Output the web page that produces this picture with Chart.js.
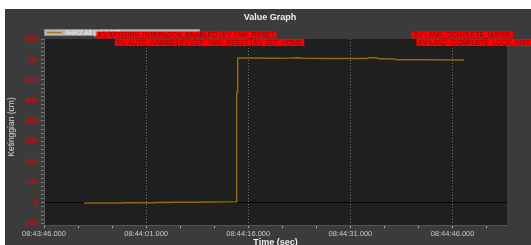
<!DOCTYPE html>
<html>
<head>
<meta charset="utf-8">
<script src="https://cdn.jsdelivr.net/npm/chart.js@4"></script>
<style>
  html, body { margin: 0; padding: 0; background: #fff; }
  #wrap { width: 531px; height: 245px; }
</style>
</head>
<body>
<div id="wrap"><canvas id="graph" width="531" height="245"></canvas></div>
<script>
// seconds after 08:43:46.000
const times  = [5.9, 11, 12.8, 13.3, 14, 16, 17.5, 18.2, 19, 22, 25, 28.2, 28.3, 28.4, 28.45, 30, 34, 36.5, 37.3, 38, 42, 47.4, 47.8, 48.9, 49.2, 51.4, 51.7, 52.2, 56, 61.7];
const height = [0, 0, 2, 1, 1, 1, 3, 2, 3, 3, 4, 5, 537, 540, 707, 707, 706, 707, 709, 706, 705, 705, 709, 709, 703, 702, 699, 699, 699, 698];

const xTickLabels = ['08:43:46.000', '08:44:01.000', '08:44:16.000', '08:44:31.000', '08:44:46.000'];
const yTickValues = [-100, 0, 100, 200, 300, 400, 500, 600, 700, 800];

const eventRow1 = ['EV MOTORS_INTERLOCK_ENABLED', 'EV YAW_RESET'];
const eventRow2 = ['EV AUTO_ARMED', 'EV EKF_YAW_RESET', 'EV SET_HOME'];
const eventRow3 = ['EV LAND_COMPLETE_MAYBE'];
const eventRow4 = ['EV LAND_COMPLETE_LOCK_DISABLE'];
const eventStart = [7.7, 10.4, 54.0, 54.7];

const seriesName = 'AHR2.Alt (m) * 100';

const decor = {
  id: 'decor',
  beforeDraw(chart) {
    const { ctx, chartArea: a } = chart;
    ctx.save();
    ctx.fillStyle = '#3b3b3b';
    ctx.fillRect(5, 9, chart.width - 5, chart.height - 9);
    ctx.fillStyle = '#1f1f1f';
    ctx.fillRect(a.left, a.top, a.right - a.left, a.bottom - a.top);
    ctx.restore();
  },
  afterDraw(chart) {
    const { ctx, chartArea: a } = chart;
    const xs = chart.scales.x;
    ctx.save();
    // title
    ctx.fillStyle = '#f0f0f0';
    ctx.font = 'bold 9px "Liberation Sans", Arial, sans-serif';
    ctx.textAlign = 'center';
    ctx.textBaseline = 'middle';
    ctx.fillText('Value Graph', 270, 18);
    ctx.fillText('Time (sec)', (a.left + a.right) / 2, 243);
    // y title
    ctx.save();
    ctx.translate(12, 127);
    ctx.rotate(-Math.PI / 2);
    ctx.font = '8.5px "Liberation Sans", Arial, sans-serif';
    ctx.fillStyle = '#d8d8d8';
    ctx.fillText('Ketinggian (cm)', 0, 0);
    ctx.restore();
    // legend box
    ctx.fillStyle = '#b8b8b8';
    ctx.fillRect(44, 29, 156, 7);
    ctx.strokeStyle = '#909090';
    ctx.lineWidth = 1;
    ctx.strokeRect(44.5, 29.5, 155, 6);
    ctx.strokeStyle = '#a8761a';
    ctx.lineWidth = 1.5;
    ctx.beginPath(); ctx.moveTo(47, 32.5); ctx.lineTo(62, 32.5); ctx.stroke();
    ctx.fillStyle = '#eeeeee';
    ctx.font = '6.5px "Liberation Sans", Arial, sans-serif';
    ctx.textAlign = 'left';
    ctx.fillText(seriesName, 65, 32.8);
    // event labels
    const rows = [eventRow1, eventRow2, eventRow3, eventRow4];
    const rowY = [31.5, 39, 31.5, 39];
    ctx.font = '6.8px "Liberation Sans", Arial, sans-serif';
    rows.forEach((row, i) => {
      let x = xs.getPixelForValue(eventStart[i]);
      row.forEach(txt => {
        const w = ctx.measureText(txt).width + 4;
        ctx.fillStyle = '#ff0000';
        ctx.fillRect(x, rowY[i], w, 7);
        ctx.fillStyle = '#8a0000';
        ctx.fillText(txt, x + 2, rowY[i] + 3.8);
        x += w + 1;
      });
    });
    ctx.restore();
  }
};

new Chart(document.getElementById('graph'), {
  type: 'line',
  data: {
    datasets: [{
      label: seriesName,
      data: times.map((t, i) => ({ x: t, y: height[i] })),
      borderColor: '#926717',
      borderWidth: 1.5,
      pointRadius: 0,
      tension: 0,
      fill: false
    }]
  },
  options: {
    responsive: false,
    animation: false,
    layout: { padding: { left: 0, right: 24, top: 39, bottom: 0 } },
    plugins: { legend: { display: false }, tooltip: { enabled: false }, title: { display: false } },
    scales: {
      x: {
        type: 'linear',
        min: 0, max: 68,
        afterFit(s) { s.height = 20; },
        afterBuildTicks(s) {
          const t = [];
          for (let v = 0; v <= 65; v += 5) t.push({ value: v });
          s.ticks = t;
        },
        ticks: {
          color: '#c8c8c8',
          font: { size: 7.5, family: '"Liberation Sans", Arial, sans-serif' },
          padding: 1,
          maxRotation: 0,
          autoSkip: false,
          callback: v => (v % 15 === 0 ? xTickLabels[v / 15] : '')
        },
        grid: {
          color: c => (c.tick && c.tick.value % 15 === 0 ? 'rgba(190,190,190,0.55)' : 'rgba(0,0,0,0)'),
          tickColor: '#aaaaaa',
          tickLength: 3,
          lineWidth: 1
        },
        border: { display: true, color: '#555555', dash: [1, 2] }
      },
      y: {
        min: -108, max: 800,
        afterFit(s) { s.width = 44; },
        afterBuildTicks(s) {
          const t = [];
          for (let v = -100; v <= 800; v += 20) t.push({ value: v });
          s.ticks = t;
        },
        ticks: {
          color: '#c01010',
          font: { size: 7.5, weight: 'bold', family: '"Liberation Sans", Arial, sans-serif' },
          padding: 3,
          autoSkip: false,
          callback: v => (yTickValues.includes(v) ? String(v) : '')
        },
        grid: {
          color: c => (c.tick && c.tick.value === 0 ? '#050505' : 'rgba(0,0,0,0)'),
          tickColor: '#777777',
          tickLength: 3,
          lineWidth: 1
        },
        border: { display: true, color: '#555555' }
      }
    }
  },
  plugins: [decor]
});
</script>
</body>
</html>
